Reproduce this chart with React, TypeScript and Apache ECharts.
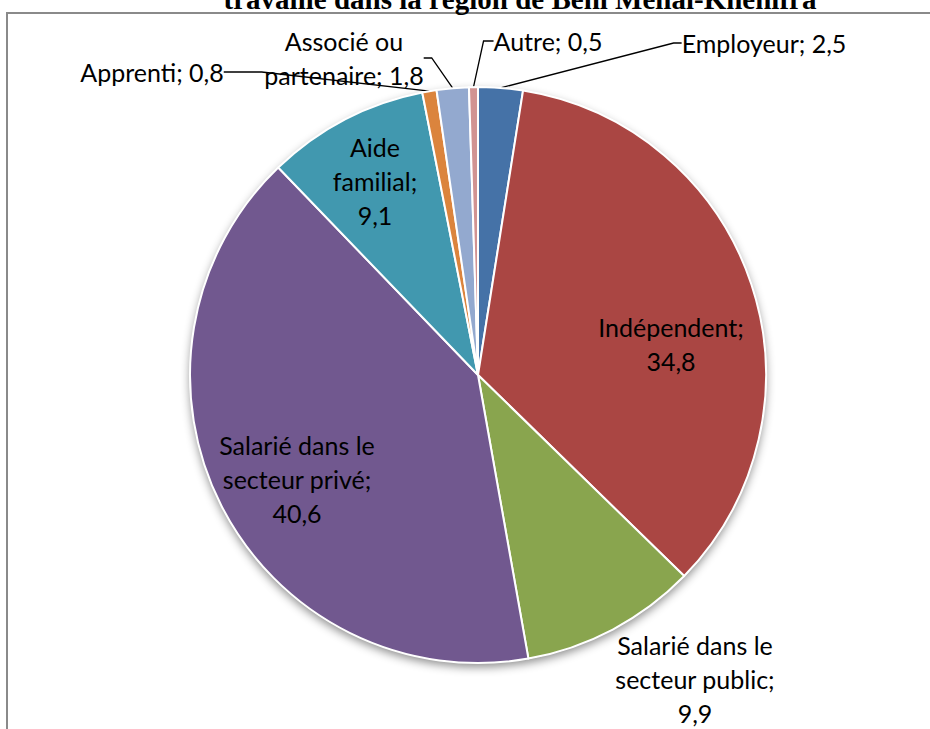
import React, { useEffect, useRef } from "react";
import * as echarts from "echarts";

const categories = [
  "Employeur",
  "Indépendent",
  "Salarié dans le\nsecteur public",
  "Salarié dans le\nsecteur privé",
  "Aide\nfamilial",
  "Apprenti",
  "Associé ou\npartenaire",
  "Autre",
];
const values = [2.5, 34.8, 9.9, 40.6, 9.1, 0.8, 1.8, 0.5];
const valueSeparators = [" ", "\n", "\n", "\n", "\n", " ", " ", " "];
const colors = ["#4572A7", "#AA4643", "#89A54E", "#71588F", "#4198AF", "#DB843D", "#93A9CF", "#D19392"];
const insideLabel = [false, true, false, true, true, false, false, false];
const showLeader = [true, false, false, false, false, true, true, true];
const titleText = "travaillé dans la région de Beni Mellal-Khenifra";

// label block centres (layout only)
const labelCenters: [number, number][] = [
  [764, 43],
  [671, 344],
  [695, 679],
  [297, 479],
  [375, 181],
  [152, 72],
  [344, 58],
  [548, 41],
];
const leaderLength2 = [8, 0, 0, 0, 0, 38, 8, 10];

const fmt = (v: number) => v.toFixed(1).replace(".", ",");

export default function App() {
  const ref = useRef<HTMLDivElement>(null);
  useEffect(() => {
    if (!ref.current) return;
    const chart = echarts.init(ref.current, null, { renderer: "svg" });
    const font = "Lato";
    const data = categories.map((name, i) => ({
      name,
      value: values[i],
      itemStyle: { color: colors[i] },
      label: { position: insideLabel[i] ? "inside" : "outside" },
      labelLine: { show: showLeader[i], length: 10, length2: leaderLength2[i] },
    }));
    chart.setOption({
      animation: false,
      backgroundColor: "#ffffff",
      graphic: [
        {
          type: "rect",
          shape: { x: 7, y: 13, width: 1200, height: 1200 },
          style: { fill: "none", stroke: "#8a8a8a", lineWidth: 2 },
          z: -10,
        },
        {
          type: "text",
          x: 520,
          y: -1,
          style: {
            text: titleText,
            font: "bold 29px 'Liberation Serif'",
            fill: "#000",
            align: "center",
            verticalAlign: "middle",
          },
        },
      ],
      series: [
        {
          type: "pie",
          silent: true,
          center: [478, 375],
          radius: [0, 288],
          label: { show: false },
          labelLine: { show: false },
          itemStyle: {
            color: "#ffffff",
            shadowBlur: 10,
            shadowOffsetY: 4,
            shadowColor: "rgba(0,0,0,0.45)",
          },
          data: [{ value: 1, name: "bg" }],
          z: 1,
        },
        {
          type: "pie",
          center: [478, 375],
          radius: [0, 288],
          startAngle: 90,
          clockwise: true,
          avoidLabelOverlap: false,
          itemStyle: { borderColor: "#ffffff", borderWidth: 2 },
          label: {
            show: true,
            color: "#000",
            fontFamily: font,
            fontSize: 25,
            lineHeight: 34,
            align: "center",
            formatter: (p: any) => `${p.name};${valueSeparators[p.dataIndex]}${fmt(p.value)}`,
          },
          labelLine: { lineStyle: { color: "#000", width: 1.3 }, minTurnAngle: 0 },
          labelLayout: (p: any) => {
            const c = labelCenters[p.dataIndex];
            return { x: c[0], y: c[1], align: "center", verticalAlign: "middle" };
          },
          data,
          z: 2,
        },
      ],
    });
    return () => chart.dispose();
  }, []);
  return (
    <div
      ref={ref}
      style={{ position: "absolute", left: 0, top: 0, width: 930, height: 729 }}
    />
  );
}
